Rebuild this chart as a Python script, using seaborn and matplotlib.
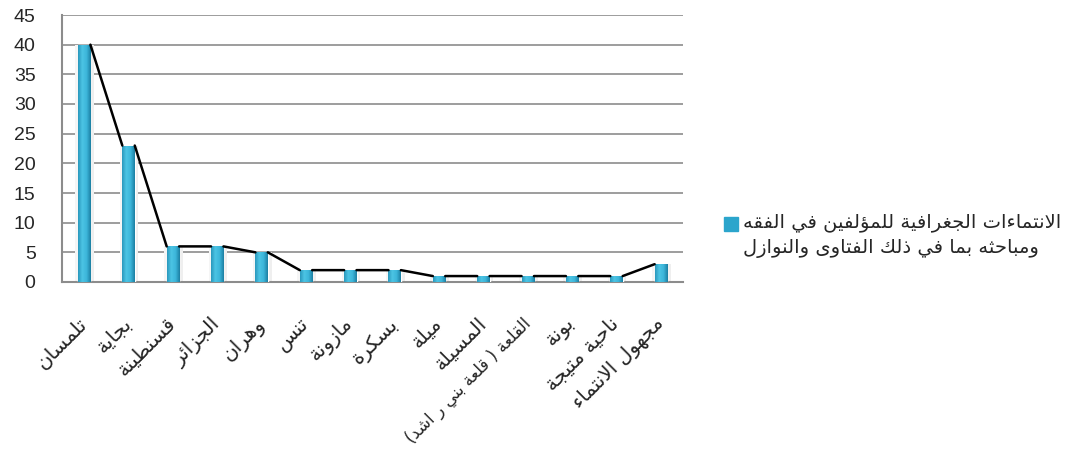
import numpy as np
import pandas as pd
import seaborn as sns
import matplotlib
matplotlib.use('Agg')
import matplotlib.pyplot as plt
from matplotlib.colors import LinearSegmentedColormap
from matplotlib.patches import Rectangle

sns.set_style('white')
plt.rcParams['font.family'] = ['Liberation Sans', 'DejaVu Sans']

places = ['تلمسان', 'بجاية', 'قسنطينة', 'الجزائر', 'وهران', 'تنس', 'مازونة', 'بسكرة',
          'ميلة', 'المسيلة', 'القلعة ( قلعة بني ر اشد)', 'بونة', 'ناحية متيجة', 'مجهول الانتماء']
counts = [40, 23, 6, 6, 5, 2, 2, 2, 1, 1, 1, 1, 1, 3]
series_name = ['الانتماءات الجغرافية للمؤلفين في الفقه', 'ومباحثه بما في ذلك الفتاوى والنوازل']
yticks = [0, 5, 10, 15, 20, 25, 30, 35, 40, 45]

# ---- arabic shaping (matplotlib has no text layout engine) ----
LETTERS = 'ءآأؤإئابةتثجحخدذرزسشصضطظعغفقكلمنهوىي'
NFORMS = [1, 2, 2, 2, 2, 4, 2, 4, 2, 4, 4, 4, 4, 4, 2, 2, 2, 2, 4, 4, 4, 4, 4, 4, 4, 4,
          4, 4, 4, 4, 4, 4, 4, 2, 2, 4]
FORMS = {}
_start = 0xFE80
for _c, _n in zip(LETTERS, NFORMS):
    FORMS[_c] = [_start + k for k in range(_n)]
    _start += _n
LAM_ALEF = {'آ': 0xFEF5, 'أ': 0xFEF7, 'إ': 0xFEF9, 'ا': 0xFEFB}
MIRROR = {'(': ')', ')': '('}


def dual(c):
    return c in FORMS and len(FORMS[c]) == 4


def joins(c):
    return c in FORMS and len(FORMS[c]) > 1


def shape(s):
    out, i, n = [], 0, len(s)
    while i < n:
        c = s[i]
        if c not in FORMS:
            out.append(MIRROR.get(c, c))
            i += 1
            continue
        left = i > 0 and dual(s[i - 1])
        if c == 'ل' and i + 1 < n and s[i + 1] in LAM_ALEF:
            out.append(chr(LAM_ALEF[s[i + 1]] + (1 if left else 0)))
            i += 2
            continue
        nxt = s[i + 1] if i + 1 < n else ''
        right = dual(c) and joins(nxt)
        k = 3 if (left and right) else 2 if right else 1 if left else 0
        out.append(chr(FORMS[c][k]))
        i += 1
    return ''.join(reversed(out))


df = pd.DataFrame({'place': places, 'count': counts})
bw = 0.28

fig = plt.figure(figsize=(10.69, 4.68), dpi=100)
ax = fig.add_axes([62 / 1069, 1 - 282 / 468, 621 / 1069, 267 / 468])
sns.barplot(data=df, x='place', y='count', color='#2ba5cc', width=bw, ax=ax, zorder=3)

# cylinder-like gradient on each bar
cmap = LinearSegmentedColormap.from_list('cyl', ['#2a98bd', '#4cc4e4', '#3cb6da', '#1c7fa2'])
grad = np.linspace(0, 1, 64).reshape(1, -1)
for p in ax.patches:
    x0, w, h = p.get_x(), p.get_width(), p.get_height()
    # soft shadow
    ax.add_patch(Rectangle((x0 + w, 0), w * 0.3, h, color='#efefef', zorder=2, lw=0))
    ax.add_patch(Rectangle((x0 - w * 0.2, 0), w * 0.2, h, color='#f5f5f5', zorder=2, lw=0))
    im = ax.imshow(grad, cmap=cmap, extent=[x0, x0 + w, 0, h], aspect='auto', zorder=4)
    im.set_clip_path(p)

# connector line between bar tops
lx, ly = [], []
for i in range(len(counts) - 1):
    lx += [i + bw / 2, i + 1 - bw / 2, np.nan]
    ly += [counts[i], counts[i + 1], np.nan]
ax.plot(lx, ly, color='black', lw=1.8, zorder=5)

ax.set_xlim(-0.5, len(counts) - 0.5)
ax.set_ylim(0, 45)
ax.set_yticks(yticks)
ax.set_yticklabels([str(v) for v in yticks], fontsize=14)
ax.yaxis.grid(True, color='#8c8c8c', lw=1.2, zorder=0)
ax.set_axisbelow(True)
ax.set_xlabel('')
ax.set_ylabel('')
for s in ['top', 'right']:
    ax.spines[s].set_visible(False)
for s in ['left', 'bottom']:
    ax.spines[s].set_color('#8c8c8c')
    ax.spines[s].set_linewidth(1.5)
ax.tick_params(axis='y', direction='out', length=7, width=1.2, color='#8c8c8c', pad=12)
ax.tick_params(axis='x', length=0, pad=28)
ax.set_xticks(range(len(places)))
xlabels = ax.set_xticklabels([shape(p) for p in places], rotation=45, ha='right', va='center',
                             rotation_mode='anchor', fontsize=14.5, family=['DejaVu Sans'])
# the long label is shrunk so it stays inside the figure
for t, p in zip(xlabels, places):
    if len(p) > 16:
        t.set_fontsize(12)

# legend
fig.patches.append(Rectangle((724 / 1069, 1 - 231 / 468), 14 / 1069, 14 / 468,
                             transform=fig.transFigure, color='#2ba5cc', figure=fig))
fig.text(743 / 1069, 1 - 223 / 468, shape(series_name[0]), fontsize=14,
         ha='left', va='center', family=['DejaVu Sans'])
fig.text(743 / 1069, 1 - 249 / 468, shape(series_name[1]), fontsize=14,
         ha='left', va='center', family=['DejaVu Sans'])

fig.savefig('out.png', dpi=100)
